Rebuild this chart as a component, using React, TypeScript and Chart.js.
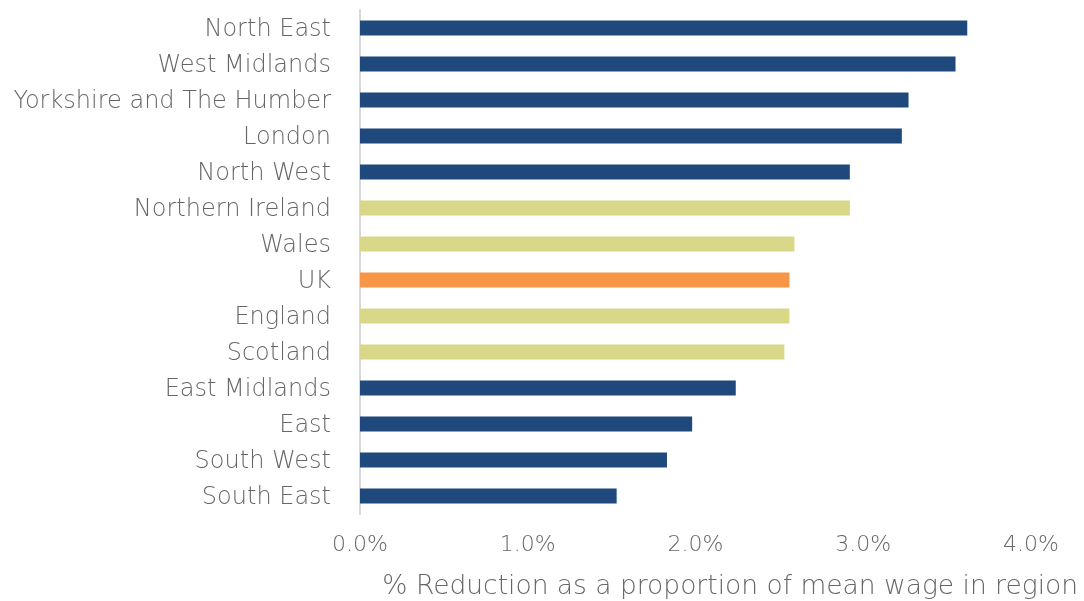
import React, { useEffect, useRef } from "react";
import { Chart, registerables } from "chart.js";

Chart.register(...registerables);

const regions = [
  "North East",
  "West Midlands",
  "Yorkshire and The Humber",
  "London",
  "North West",
  "Northern Ireland",
  "Wales",
  "UK",
  "England",
  "Scotland",
  "East Midlands",
  "East",
  "South West",
  "South East",
];

const reductionPct = [3.62, 3.55, 3.27, 3.23, 2.92, 2.92, 2.59, 2.56, 2.56, 2.53, 2.24, 1.98, 1.83, 1.53];

const regionKind = ["region", "region", "region", "region", "region", "nation", "nation", "uk", "nation", "nation", "region", "region", "region", "region"];

const xTicks = [0, 1, 2, 3, 4];

const axisTitle = "% Reduction as a proportion of mean wage in region";

const kindColors: Record<string, string> = {
  region: "#1f497d",
  nation: "#d8d888",
  uk: "#f79646",
};

const FONT = "'DejaVu Sans', sans-serif";
const TEXT = "#666666";

export default function App() {
  const ref = useRef<HTMLCanvasElement | null>(null);
  useEffect(() => {
    if (!ref.current) return;
    const titlePlugin = {
      id: "bottomTitle",
      afterDraw(chart: any) {
        const ctx = chart.ctx;
        ctx.save();
        ctx.font = `200 26.5px ${FONT}`;
        ctx.fillStyle = TEXT;
        ctx.textAlign = "right";
        ctx.textBaseline = "middle";
        ctx.fillText(axisTitle, chart.width - 6, chart.height - 14);
        ctx.restore();
      },
    };
    const chart = new Chart(ref.current, {
      type: "bar",
      data: {
        labels: regions,
        datasets: [
          {
            data: reductionPct,
            backgroundColor: regionKind.map((k) => kindColors[k]),
            categoryPercentage: 1,
            barPercentage: 0.42,
          },
        ],
      },
      options: {
        indexAxis: "y",
        animation: false,
        responsive: false,
        layout: { padding: { top: 10, right: 53, left: 0, bottom: 0 } },
        plugins: { legend: { display: false }, tooltip: { enabled: false } },
        scales: {
          x: {
            min: 0,
            max: 4,
            afterBuildTicks(scale: any) {
              scale.ticks = xTicks.map((v) => ({ value: v }));
            },
            afterFit(scale: any) {
              scale.height = 87;
              scale.paddingLeft = 0;
              scale.paddingRight = 0;
            },
            grid: { display: false, drawTicks: false },
            border: { display: false },
            ticks: {
              padding: 18,
              color: TEXT,
              font: { family: FONT, size: 22, weight: "200" as any },
              callback: (v: any) => Number(v).toFixed(1) + "%",
            },
          },
          y: {
            afterFit(scale: any) {
              scale.width = 360;
              scale.paddingTop = 0;
              scale.paddingBottom = 0;
            },
            grid: { display: false, drawTicks: false },
            border: { display: true, color: "#d9d9d9", width: 2 },
            ticks: {
              padding: 29,
              labelOffset: 2,
              color: TEXT,
              font: { family: FONT, size: 24, weight: "200" as any },
            },
          },
        },
      },
      plugins: [titlePlugin],
    });
    return () => chart.destroy();
  }, []);
  return (
    <div style={{ position: "fixed", left: 0, top: 0, width: 1084, height: 601, background: "#fff" }}>
      <canvas ref={ref} width={1084} height={601} style={{ width: 1084, height: 601 }} />
    </div>
  );
}
